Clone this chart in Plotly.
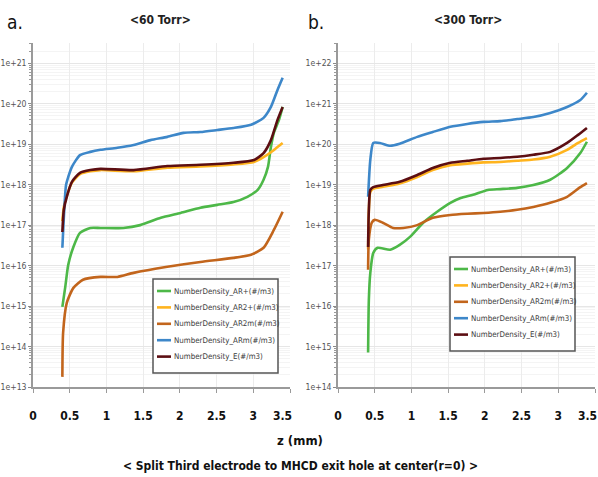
import numpy as np
import plotly.graph_objects as go

# ---- data: z position (mm) and log10 of number density (#/m3) ----
# 60 Torr
z60_arp = [0.40, 0.44, 0.48, 0.55, 0.64, 0.78, 0.92, 1.23, 1.46, 1.74, 2.01, 2.28, 2.51, 2.73,
           2.92, 3.06, 3.14, 3.20, 3.24, 3.28, 3.35, 3.40]
n60_arp = [14.98, 15.48, 16.02, 16.46, 16.81, 16.93, 16.93, 16.93, 17.00, 17.18, 17.30, 17.43,
           17.50, 17.57, 17.70, 17.87, 18.12, 18.44, 18.93, 19.28, 19.60, 19.92]

z60_ar2p = [0.40, 0.42, 0.46, 0.53, 0.64, 0.78, 0.92, 1.37, 1.83, 2.28, 2.73, 3.01, 3.14, 3.24,
            3.33, 3.40]
n60_ar2p = [17.10, 17.45, 17.72, 18.05, 18.26, 18.33, 18.36, 18.33, 18.42, 18.45, 18.50, 18.56,
            18.68, 18.80, 18.93, 19.03]

z60_ar2m = [0.40, 0.41, 0.46, 0.55, 0.68, 0.92, 1.15, 1.37, 1.83, 2.28, 2.73, 2.97, 3.14, 3.28,
            3.40]
n60_ar2m = [13.25, 14.34, 15.08, 15.45, 15.65, 15.72, 15.72, 15.82, 15.97, 16.09, 16.19, 16.27,
            16.44, 16.88, 17.33]

z60_arm = [0.40, 0.45, 0.48, 0.53, 0.64, 0.78, 0.92, 1.15, 1.37, 1.60, 1.83, 2.05, 2.28, 2.51,
           2.73, 2.97, 3.14, 3.24, 3.33, 3.40]
n60_arm = [16.44, 17.99, 18.19, 18.44, 18.73, 18.81, 18.86, 18.91, 18.98, 19.10, 19.18, 19.28,
           19.30, 19.35, 19.40, 19.48, 19.65, 19.92, 20.34, 20.64]

z60_e = [0.40, 0.42, 0.46, 0.53, 0.64, 0.78, 0.92, 1.37, 1.83, 2.28, 2.73, 3.01, 3.14, 3.24,
         3.33, 3.40]
n60_e = [16.83, 17.38, 17.70, 18.07, 18.29, 18.36, 18.39, 18.36, 18.46, 18.49, 18.54, 18.61,
         18.78, 19.10, 19.60, 19.92]

# 300 Torr
z300_arp = [0.41, 0.42, 0.44, 0.48, 0.54, 0.71, 0.84, 0.98, 1.16, 1.35, 1.53, 1.67, 1.84, 2.04,
            2.21, 2.44, 2.66, 2.89, 3.12, 3.30, 3.39]
n300_arp = [14.85, 16.15, 16.82, 17.31, 17.44, 17.39, 17.51, 17.71, 18.06, 18.33, 18.55, 18.67,
            18.75, 18.87, 18.89, 18.92, 18.99, 19.12, 19.41, 19.78, 20.06]

z300_ar2p = [0.41, 0.42, 0.44, 0.48, 0.61, 0.84, 1.08, 1.29, 1.53, 1.76, 1.98, 2.21, 2.44, 2.66,
             2.89, 3.12, 3.27, 3.39]
n300_ar2p = [17.40, 18.35, 18.82, 18.90, 18.95, 19.03, 19.19, 19.36, 19.48, 19.52, 19.55, 19.56,
             19.59, 19.62, 19.69, 19.86, 20.03, 20.15]

z300_ar2m = [0.41, 0.42, 0.46, 0.50, 0.61, 0.75, 0.89, 1.08, 1.29, 1.53, 1.76, 1.98, 2.21, 2.44,
             2.66, 2.89, 3.12, 3.30, 3.39]
n300_ar2m = [16.90, 17.64, 18.06, 18.13, 18.06, 17.93, 17.93, 18.00, 18.18, 18.25, 18.28, 18.30,
             18.33, 18.38, 18.45, 18.55, 18.70, 18.94, 19.04]

z300_arm = [0.41, 0.44, 0.48, 0.57, 0.71, 0.84, 1.08, 1.29, 1.53, 1.76, 1.98, 2.21, 2.44, 2.66,
            2.89, 3.12, 3.30, 3.39]
n300_arm = [18.70, 19.61, 20.03, 20.03, 19.96, 20.01, 20.18, 20.30, 20.43, 20.50, 20.55, 20.57,
            20.62, 20.67, 20.77, 20.92, 21.09, 21.27]

z300_e = [0.41, 0.42, 0.44, 0.48, 0.61, 0.84, 1.08, 1.29, 1.53, 1.76, 1.98, 2.21, 2.44, 2.66,
          2.89, 3.12, 3.27, 3.39]
n300_e = [17.46, 18.38, 18.87, 18.94, 18.99, 19.07, 19.24, 19.41, 19.54, 19.59, 19.64, 19.66,
          19.69, 19.74, 19.81, 20.03, 20.23, 20.40]

species = ["NumberDensity_AR+(#/m3)", "NumberDensity_AR2+(#/m3)", "NumberDensity_AR2m(#/m3)",
           "NumberDensity_ARm(#/m3)", "NumberDensity_E(#/m3)"]
colors = ["#4db848", "#ffb41e", "#c2651c", "#3d87c9", "#5c0e12"]

panel60 = [(z60_arp, n60_arp), (z60_ar2p, n60_ar2p), (z60_ar2m, n60_ar2m),
           (z60_arm, n60_arm), (z60_e, n60_e)]
panel300 = [(z300_arp, n300_arp), (z300_ar2p, n300_ar2p), (z300_ar2m, n300_ar2m),
            (z300_arm, n300_arm), (z300_e, n300_e)]

x_ticks = [0, 0.5, 1, 1.5, 2, 2.5, 3, 3.5]
x_ticktext = ["0", "0.5", "1", "1.5", "2", "2.5", "3", "3.5"]

NARROW = "DejaVu Sans Condensed, Liberation Sans Narrow, Arial Narrow, Liberation Sans, sans-serif"
XTICK_FONT = dict(family=NARROW, size=12, color="#111111", weight="bold")

fig = go.Figure()

for panel, xa, ya in [(panel60, "x", "y"), (panel300, "x2", "y2")]:
    for (z, n), name, col in zip(panel, species, colors):
        fig.add_trace(go.Scatter(
            x=z, y=10 ** np.array(n), mode="lines", name=name,
            line=dict(color=col, width=2.6, shape="spline", smoothing=0.6),
            xaxis=xa, yaxis=ya, showlegend=False,
        ))

W, H = 598, 477
y_dom = [1 - 387 / H, 1 - 43 / H]

def xaxis_style(domain, anchor):
    # the end label is drawn separately, pulled in from the page edge
    return dict(
        domain=domain, range=[0, 3.5], tickvals=x_ticks,
        ticktext=x_ticktext[:-1] + [""], anchor=anchor,
        showline=True, linecolor="#9a9a9a", linewidth=1.5, automargin=False,
        ticks="outside", ticklen=4, tickcolor="#9a9a9a",
        ticklabelstandoff=13,
        tickfont=XTICK_FONT,
        showgrid=True, gridcolor="#ececec", gridwidth=1, zeroline=False,
    )

def yaxis_style(rng, anchor):
    return dict(
        type="log", range=rng, dtick=1, exponentformat="e", anchor=anchor, domain=y_dom,
        showline=True, linecolor="#9a9a9a", linewidth=1.5, automargin=False,
        ticks="outside", ticklen=3, tickcolor="#8a8a8a",
        ticklabeloverflow="allow",
        tickfont=dict(family=NARROW, size=8.6, color="#555555"),
        showgrid=True, gridcolor="#e6e6e6", gridwidth=1, zeroline=False,
        minor=dict(ticks="outside", ticklen=2, tickcolor="#9a9a9a",
                   showgrid=True, gridcolor="#f4f4f4"),
    )

fig.update_layout(
    width=W, height=H,
    margin=dict(l=0, r=0, t=0, b=0),
    paper_bgcolor="white", plot_bgcolor="white",
    xaxis=xaxis_style([33 / W, 290 / W], "y"),
    yaxis=yaxis_style([13, 21.5], "x"),
    xaxis2=xaxis_style([338 / W, 595 / W], "y2"),
    yaxis2=yaxis_style([14, 22.5], "x2"),
    showlegend=False,
)

# end-of-axis tick label "3.5" for each panel
for xref in ["x", "x2"]:
    fig.add_annotation(text=x_ticktext[-1], x=x_ticks[-1], xref=xref,
                       y=1 - 416 / H, yref="paper", xanchor="right", yanchor="middle",
                       xshift=4, showarrow=False, font=XTICK_FONT)

# legend boxes (paper pixel positions of the box: left, top, right, bottom)
def add_legend_box(left, top, right, bottom):
    fig.add_shape(type="rect", xref="paper", yref="paper",
                  x0=left / W, x1=right / W, y0=1 - bottom / H, y1=1 - top / H,
                  line=dict(color="#555555", width=1.5), fillcolor="white", layer="above")
    step = (bottom - top - 12) / len(species)
    for i, (name, col) in enumerate(zip(species, colors)):
        yy = 1 - (top + 12 + i * step) / H
        fig.add_shape(type="line", xref="paper", yref="paper",
                      x0=(left + 4) / W, x1=(left + 18) / W, y0=yy, y1=yy,
                      line=dict(color=col, width=2.6), layer="above")
        fig.add_annotation(text=name, x=(left + 19) / W, y=yy, xref="paper", yref="paper",
                           xanchor="left", yanchor="middle", showarrow=False,
                           font=dict(family=NARROW, size=7.9, color="#3a3a3a"))

add_legend_box(153, 279, 278, 373)
add_legend_box(450, 257, 575, 351)

annots = [
    dict(text="a.", x=15 / W, y=1 - 22 / H, size=19, weight="normal", color="#111111"),
    dict(text="b.", x=316 / W, y=1 - 22 / H, size=19, weight="normal", color="#111111"),
    dict(text="<60 Torr>", x=160 / W, y=1 - 20 / H, size=12, weight="bold", color="#222222"),
    dict(text="<300 Torr>", x=468 / W, y=1 - 20 / H, size=12, weight="bold", color="#222222"),
    dict(text="z (mm)", x=300 / W, y=1 - 440 / H, size=13, weight="bold", color="#111111"),
    dict(text="< Split Third electrode to MHCD exit hole at center(r=0) >", x=300 / W,
         y=1 - 466 / H, size=12, weight="bold", color="#111111"),
]
for a in annots:
    fig.add_annotation(
        text=a["text"].replace("<", "&lt;").replace(">", "&gt;"),
        x=a["x"], y=a["y"], xref="paper", yref="paper",
        xanchor="center", yanchor="middle", showarrow=False,
        font=dict(family=NARROW, size=a["size"], color=a["color"], weight=a["weight"]),
    )

fig.write_html("out.html")
